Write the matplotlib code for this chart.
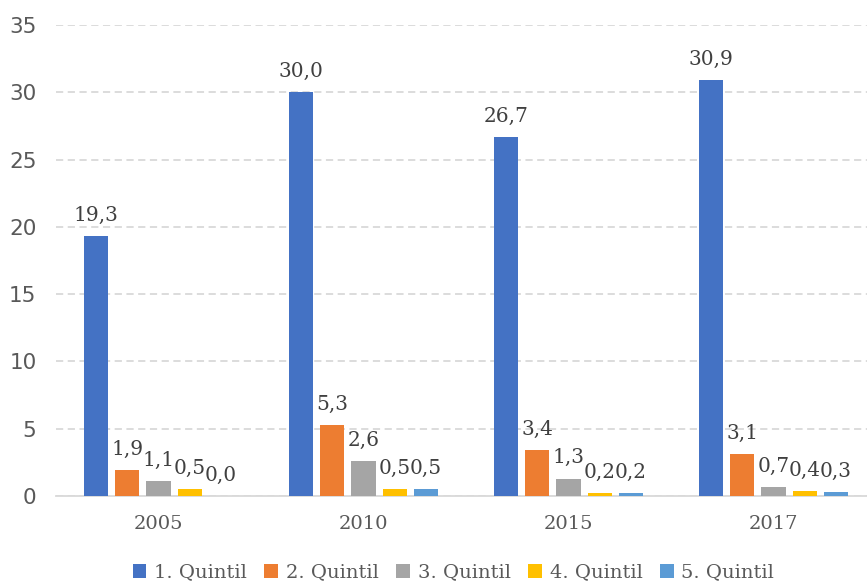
import numpy as np
import matplotlib.pyplot as plt

# data
years = ['2005', '2010', '2015', '2017']
series = ['1. Quintil', '2. Quintil', '3. Quintil', '4. Quintil', '5. Quintil']
q1 = [19.3, 30.0, 26.7, 30.9]
q2 = [1.9, 5.3, 3.4, 3.1]
q3 = [1.1, 2.6, 1.3, 0.7]
q4 = [0.5, 0.5, 0.2, 0.4]
q5 = [0.0, 0.5, 0.2, 0.3]
values = [q1, q2, q3, q4, q5]
colors = ['#4472C4', '#ED7D31', '#A5A5A5', '#FFC000', '#5B9BD5']

serif = 'DejaVu Serif'
txt_col = '#595959'

fig = plt.figure(figsize=(8.67, 5.83), dpi=100)
ax = fig.add_axes([56 / 867, 87 / 583, 820 / 867, 471 / 583])

x = np.arange(len(years))
pitch = 0.152
width = 0.118
for i, (name, vals, c) in enumerate(zip(series, values, colors)):
    pos = x + (i - 2) * pitch
    bars = ax.bar(pos, vals, width, color=c, label=name, zorder=3)
    for b, v in zip(bars, vals):
        ax.annotate(f'{v:.1f}'.replace('.', ','),
                    (b.get_x() + b.get_width() / 2, v),
                    xytext=(0, 8), textcoords='offset points',
                    ha='center', va='bottom', fontsize=14.5,
                    family=serif, color='#404040')

ax.set_xlim(-0.5, 3.5)
ax.set_ylim(0, 35)
ax.set_yticks(range(0, 36, 5))
ax.set_xticks(x)
ax.set_xticklabels(years, family=serif, fontsize=14, color=txt_col)
ax.tick_params(axis='y', labelsize=15.5, labelcolor=txt_col, length=0, pad=14)
ax.tick_params(axis='x', length=0, pad=14)
ax.grid(axis='y', color='#d9d9d9', linestyle=(0, (4, 2.5)), linewidth=1.3, zorder=0)
for s in ['left', 'right', 'top']:
    ax.spines[s].set_visible(False)
ax.spines['bottom'].set_color('#d9d9d9')
ax.spines['bottom'].set_linewidth(1.3)

fig.legend(loc='center', bbox_to_anchor=(0.523, 0.018), ncol=5, frameon=False,
           prop={'family': serif, 'size': 14}, labelcolor=txt_col,
           handlelength=0.7, handleheight=0.7, handletextpad=0.4,
           columnspacing=0.9)

fig.savefig('out.png', dpi=100)
